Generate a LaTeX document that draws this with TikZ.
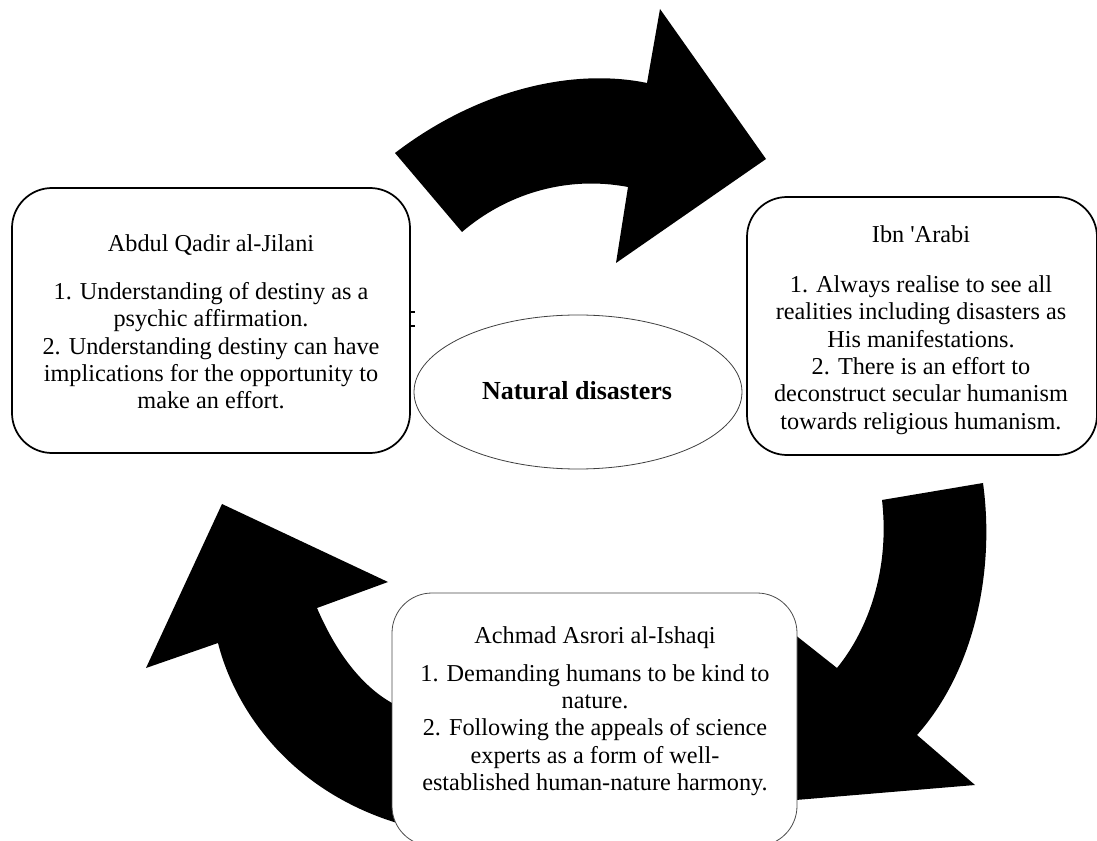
\documentclass[tikz,border=0pt]{standalone}
\usepackage{fontspec}
\setmainfont{Liberation Serif}
\usetikzlibrary{shapes.geometric}
\begin{document}
\begin{tikzpicture}[x=0.75pt,y=-0.75pt]
	\tikzstyle{bigarrow}=[fill=black,draw=none]
	\tikzstyle{thinker}=[rectangle,rounded corners=30pt,draw=black,fill=white,line width=1.3pt]
	\tikzstyle{hub}=[ellipse,draw=black!75,fill=white,line width=0.6pt,minimum width=246pt,minimum height=115.5pt,inner sep=0pt]
	\tikzstyle{words}=[align=center,font=\fontsize{18.2}{20.5}\selectfont,inner sep=0pt]
	\useasboundingbox (0,0) rectangle (1097,841);
	% the three turning arrows
	\path[bigarrow] (395,153) .. controls (480,88) and (575,68) .. (647,83) -- (660,9) -- (766,159) -- (616,263) -- (628,187) .. controls (565,175) and (505,195) .. (462,232) -- cycle;
	\path[bigarrow] (882,500) -- (983,483) .. controls (995,570) and (975,670) .. (917,735) -- (975,785) -- (760,803) -- (770,615) -- (837,668) .. controls (868,630) and (890,570) .. (882,500) -- cycle;
	\path[bigarrow] (440,727) -- (392,703) .. controls (360,685) and (335,650) .. (317,608) -- (388,582) -- (222,504) -- (146,668) -- (218,643) .. controls (235,710) and (290,790) .. (397,823) -- (440,840) -- cycle;
	% centre
	\node [hub] (disaster) at (578,392) {};
	\node [words,font=\fontsize{19.5}{21}\selectfont\bfseries] (disastertext) at (577,391) {Natural disasters};
	% the three thinkers
	\node [thinker,minimum width=298.5pt,minimum height=198.75pt] (jilani) at (211,320.5) {};
	\node [thinker,minimum width=262.5pt,minimum height=193.5pt] (arabi) at (922,326) {};
	\node [thinker,draw=black!70,line width=0.6pt,minimum width=303.75pt,minimum height=189.75pt] (ishaqi) at (594.5,719.5) {};
	\node [words] (jilanitext) at (211,322) {Abdul Qadir al-Jilani\\[15.5pt]
		1. Understanding of destiny as a\\ psychic affirmation.\\
		2. Understanding destiny can have\\ implications for the opportunity to\\ make an effort.};
	\node [words] (arabitext) at (921,330) {Ibn \textquotesingle Arabi\\[17pt]
		1. Always realise to see all\\ realities including disasters as\\ His manifestations.\\
		2. There is an effort to\\ deconstruct secular humanism\\ towards religious humanism.};
	\node [words] (ishaqitext) at (595,711) {Achmad Asrori al-Ishaqi\\[8pt]
		1. Demanding humans to be kind to\\ nature.\\
		2. Following the appeals of science\\ experts as a form of well-\\ established human-nature harmony.};
	% stray ticks
	\draw[line width=1pt] (411,312) -- (415,312) (411,326) -- (415,326);
\end{tikzpicture}
\end{document}
